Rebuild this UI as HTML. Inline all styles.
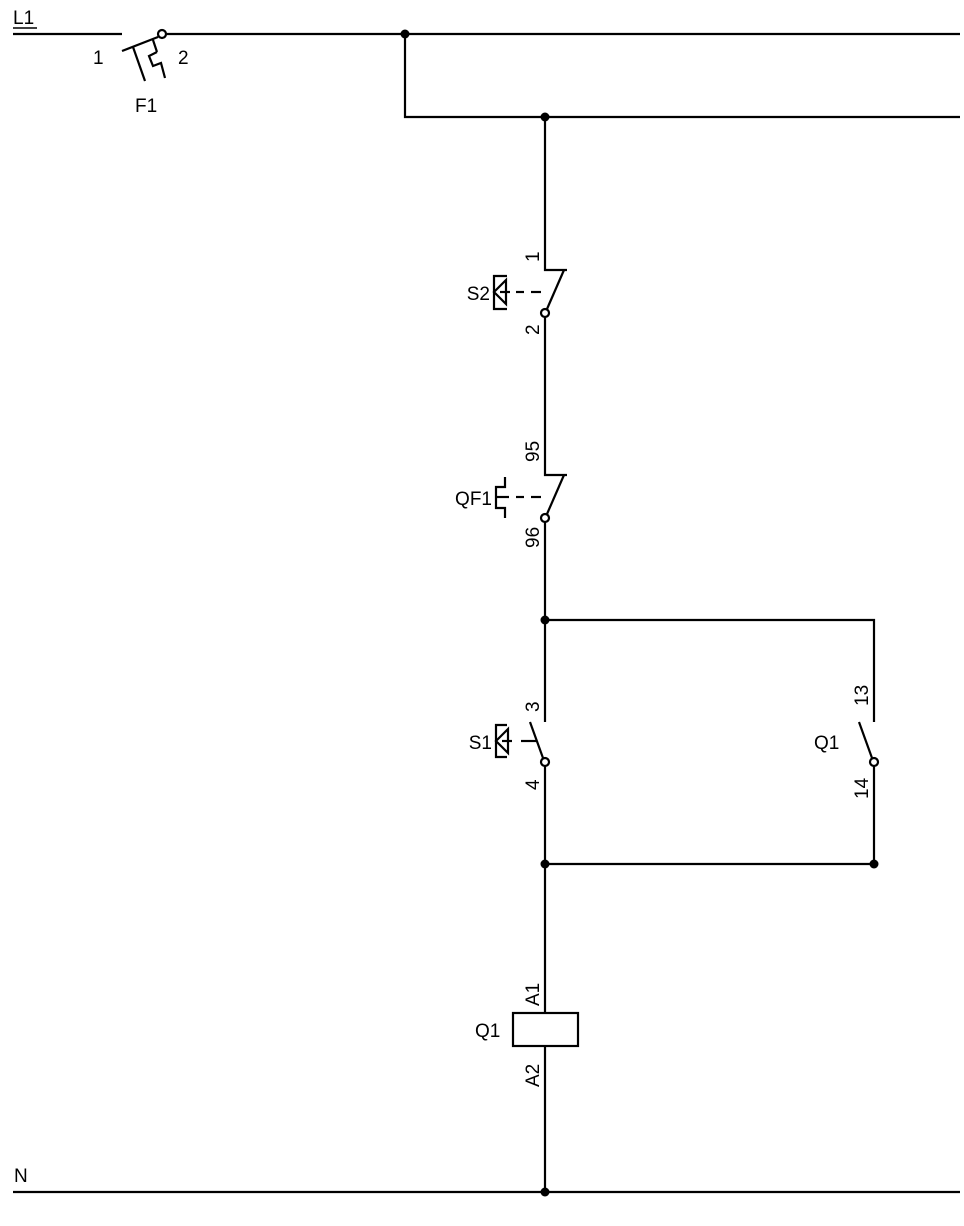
<!DOCTYPE html>
<html><head><style>body{margin:0;background:#fff}svg{display:block}text{font-family:"Liberation Sans",sans-serif;font-size:19px;fill:#000}</style></head>
<body>
<svg width="964" height="1226" viewBox="0 0 964 1226" xmlns="http://www.w3.org/2000/svg" stroke="#000" stroke-width="2.2" fill="none">
<line x1="13" y1="34" x2="122" y2="34"/>
<text x="13" y="24" stroke="none">L1</text>
<line x1="13" y1="28" x2="37" y2="28" stroke-width="1.5"/>
<line x1="167" y1="34" x2="960" y2="34"/>
<circle cx="162" cy="34" r="4" fill="#fff"/>
<line x1="122" y1="51" x2="158" y2="37"/>
<line x1="133" y1="47" x2="145" y2="81"/>
<line x1="153" y1="40" x2="157" y2="52"/>
<polyline points="157,52 149,56 153,66 161,63 165,78"/>
<text x="93" y="64" stroke="none">1</text>
<text x="178" y="64" stroke="none">2</text>
<text x="135" y="112" stroke="none">F1</text>
<circle cx="405" cy="34" r="4.5" fill="#000" stroke="none"/>
<polyline points="405,34 405,117 960,117"/>
<circle cx="545" cy="117" r="4.5" fill="#000" stroke="none"/>
<polyline points="545,117 545,270 567,270"/>
<line x1="564" y1="270" x2="547" y2="309"/>
<circle cx="545" cy="313" r="4" fill="#fff"/>
<line x1="516" y1="292" x2="524" y2="292"/><line x1="531" y1="292" x2="541" y2="292"/>
<polyline points="507,276 494,276 494,309 507,309"/>
<polygon points="494,292 506,280 506,304"/>
<line x1="500" y1="292" x2="510" y2="292"/>
<text x="490" y="300" text-anchor="end" stroke="none">S2</text>
<text transform="translate(539,262) rotate(-90)" stroke="none">1</text>
<text transform="translate(539,335) rotate(-90)" stroke="none">2</text>
<polyline points="545,317 545,475 567,475"/>
<line x1="564" y1="475" x2="547" y2="514"/>
<circle cx="545" cy="518" r="4" fill="#fff"/>
<line x1="516" y1="497" x2="524" y2="497"/><line x1="531" y1="497" x2="541" y2="497"/>
<polyline points="505,477 505,487 496,487 496,508 505,508 505,518"/>
<line x1="496" y1="497" x2="509" y2="497"/>
<text x="492" y="505" text-anchor="end" stroke="none">QF1</text>
<text transform="translate(539,462) rotate(-90)" stroke="none">95</text>
<text transform="translate(539,548) rotate(-90)" stroke="none">96</text>
<line x1="545" y1="522" x2="545" y2="620"/>
<circle cx="545" cy="620" r="4.5" fill="#000" stroke="none"/>
<polyline points="874,722 874,620 545,620 545,722"/>
<line x1="530" y1="722" x2="543" y2="758"/>
<circle cx="545" cy="762" r="4" fill="#fff"/>
<line x1="521" y1="741" x2="537" y2="741"/>
<polyline points="507,725 496,725 496,757 507,757"/>
<polygon points="496,741 508,729 508,753"/>
<line x1="502" y1="741" x2="512" y2="741"/>
<text x="492" y="749" text-anchor="end" stroke="none">S1</text>
<text transform="translate(539,712) rotate(-90)" stroke="none">3</text>
<text transform="translate(539,790) rotate(-90)" stroke="none">4</text>
<line x1="859" y1="722" x2="872" y2="758"/>
<circle cx="874" cy="762" r="4" fill="#fff"/>
<text x="814" y="749" stroke="none">Q1</text>
<text transform="translate(868,706) rotate(-90)" stroke="none">13</text>
<text transform="translate(868,799) rotate(-90)" stroke="none">14</text>
<polyline points="545,766 545,864 874,864 874,766"/>
<circle cx="545" cy="864" r="4.5" fill="#000" stroke="none"/>
<circle cx="874" cy="864" r="4.5" fill="#000" stroke="none"/>
<line x1="545" y1="864" x2="545" y2="1013"/>
<rect x="513" y="1013" width="65" height="33"/>
<line x1="545" y1="1046" x2="545" y2="1192"/>
<text x="475" y="1037" stroke="none">Q1</text>
<text transform="translate(539,1006) rotate(-90)" stroke="none">A1</text>
<text transform="translate(539,1087) rotate(-90)" stroke="none">A2</text>
<line x1="13" y1="1192" x2="960" y2="1192"/>
<text x="14" y="1182" stroke="none">N</text>
<circle cx="545" cy="1192" r="4.5" fill="#000" stroke="none"/>
</svg>
</body></html>
